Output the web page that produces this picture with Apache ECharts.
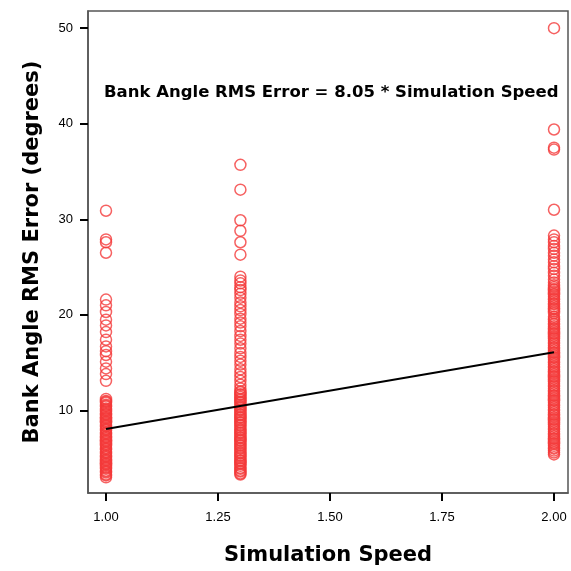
<!DOCTYPE html>
<html>
<head>
<meta charset="utf-8">
<script src="https://cdn.jsdelivr.net/npm/echarts@6/dist/echarts.min.js"></script>
<style>html,body{margin:0;padding:0;background:#fff}#c{width:571px;height:571px}</style>
</head>
<body>
<div id="c"></div>
<script>
const xTicks = [1.00, 1.25, 1.50, 1.75, 2.00];
const yTicks = [10, 20, 30, 40, 50];
const speeds = [1.00, 1.30, 2.00];
const errAt100 = [30.9, 27.9, 27.6, 26.5, 21.6, 21.0, 20.3, 19.5, 18.9, 18.2, 17.4, 16.7, 16.2, 15.8, 15.1, 14.4, 13.8, 13.1,
  11.2, 11.0, 10.9, 10.8, 10.6, 10.5, 10.4, 10.2, 10.1, 10.0, 9.9, 9.7, 9.6, 9.5, 9.3, 9.2, 9.1, 8.9, 8.8, 8.7, 8.5, 8.4, 8.3, 8.1, 8.0,
  7.9, 7.7, 7.6, 7.5, 7.3, 7.2, 7.1, 6.9, 6.8, 6.7, 6.5, 6.4, 6.3, 6.1, 6.0, 5.9, 5.7, 5.6, 5.5, 5.3, 5.2, 5.1, 4.9, 4.8, 4.7, 4.5,
  4.4, 4.3, 4.1, 4.0, 3.9, 3.7, 3.6, 3.5, 3.3, 3.2, 3.0];
const errAt130 = [35.7, 33.1, 29.9, 28.8, 27.6, 26.3, 24.0, 23.6, 23.3, 22.9, 22.6, 22.2, 21.8, 21.3, 20.9, 20.5, 20.1, 19.6, 19.2,
  18.8, 18.3, 17.8, 17.4, 17.0, 16.5, 16.0, 15.6, 15.2, 14.8, 14.3, 13.9, 13.5, 13.1, 12.7, 12.3,
  12.0, 11.9, 11.7, 11.6, 11.4, 11.2, 11.1, 10.9, 10.8, 10.6, 10.4, 10.3, 10.1, 10.0, 9.8, 9.6, 9.5, 9.3, 9.2, 9.0, 8.8, 8.7, 8.5,
  8.4, 8.2, 8.0, 7.9, 7.7, 7.6, 7.4, 7.2, 7.1, 6.9, 6.8, 6.6, 6.4, 6.3, 6.1, 6.0, 5.8, 5.6, 5.5, 5.3, 5.2, 5.0, 4.8, 4.7, 4.5, 4.4,
  4.2, 4.0, 3.9, 3.7, 3.6, 3.4, 3.3];
const errAt200 = [50.0, 39.4, 37.5, 37.3, 31.0, 28.3, 27.9, 27.6, 27.2, 26.9, 26.5, 26.2, 25.8, 25.5, 25.1, 24.8, 24.4, 24.1, 23.7,
  23.4, 23.1, 22.9, 22.7, 22.6, 22.4, 22.2, 22.1, 21.9, 21.7, 21.6, 21.4, 21.2, 21.1, 20.9, 20.7, 20.6, 20.4, 20.2, 19.8, 19.6, 19.5,
  19.3, 19.1, 19.0, 18.8, 18.6, 18.5, 18.3, 18.1, 18.0, 17.8, 17.6, 17.5, 17.3, 17.1, 17.0, 16.8, 16.6, 16.5, 16.3, 16.1, 16.0, 15.8,
  15.6, 15.5, 15.3, 15.1, 15.0, 14.8, 14.6, 14.5, 14.3, 14.1, 14.0, 13.8, 13.6, 13.5, 13.3, 13.1, 13.0, 12.8, 12.6, 12.5, 12.3, 12.1,
  12.0, 11.8, 11.6, 11.5, 11.3, 11.1, 11.0, 10.8, 10.6, 10.5, 10.3, 10.1, 10.0, 9.8, 9.6, 9.5, 9.3, 9.1, 9.0, 8.8, 8.6, 8.5, 8.3, 8.1,
  8.0, 7.8, 7.6, 7.5, 7.3, 7.1, 7.0, 6.8, 6.6, 6.5, 6.3, 6.1, 6.0, 5.8, 5.6, 5.4];
const slope = 8.05;
const fitX = [1.00, 2.00];

const cols = [errAt100, errAt130, errAt200];
const points = [];
cols.forEach((arr, i) => arr.forEach(v => points.push([speeds[i], v])));

const chart = echarts.init(document.getElementById('c'));
const F = 'Liberation Sans, Arial, sans-serif';
const B = 'DejaVu Sans, Verdana, sans-serif';
chart.setOption({
  animation: false,
  grid: { left: 88, top: 11, right: 3, bottom: 77, show: true, borderColor: '#555', borderWidth: 1.5, backgroundColor: '#fff' },
  title: {
    text: 'Bank Angle RMS Error = ' + slope.toFixed(2) + ' * Simulation Speed',
    left: 99, top: 79,
    textStyle: { fontFamily: B, fontSize: 16.5, fontWeight: 'bold', color: '#000' }
  },
  xAxis: {
    type: 'value', min: 0.9598, max: 2.03125,
    name: 'Simulation Speed', nameLocation: 'middle', nameGap: 52,
    nameTextStyle: { fontFamily: B, fontSize: 21, fontWeight: 'bold', color: '#000' },
    axisLine: { show: true, lineStyle: { color: '#555', width: 1.5 } },
    axisTick: { show: true, customValues: xTicks, length: 8, lineStyle: { color: '#000', width: 2 } },
    axisLabel: { customValues: xTicks, formatter: v => v.toFixed(2), fontFamily: F, fontSize: 13, color: '#000', margin: 18 },
    splitLine: { show: false }
  },
  yAxis: {
    type: 'value', min: 1.36, max: 51.8,
    name: 'Bank Angle RMS Error (degrees)', nameLocation: 'middle', nameGap: 45, nameRotate: 90,
    nameTextStyle: { fontFamily: B, fontSize: 21, fontWeight: 'bold', color: '#000' },
    axisLine: { show: true, lineStyle: { color: '#555', width: 1.5 } },
    axisTick: { show: true, customValues: yTicks, length: 8, lineStyle: { color: '#000', width: 2 } },
    axisLabel: { customValues: yTicks, fontFamily: F, fontSize: 13, color: '#000', margin: 15 },
    splitLine: { show: false }
  },
  series: [
    {
      type: 'scatter', data: points, symbol: 'circle', symbolSize: 11,
      itemStyle: { color: 'rgba(0,0,0,0)', borderColor: '#f43a3a', borderWidth: 1.5 },
      z: 2
    },
    {
      type: 'line', data: fitX.map(x => [x, slope * x]), symbol: 'none',
      lineStyle: { color: '#000', width: 2 }, z: 3
    }
  ]
});
</script>
</body>
</html>
